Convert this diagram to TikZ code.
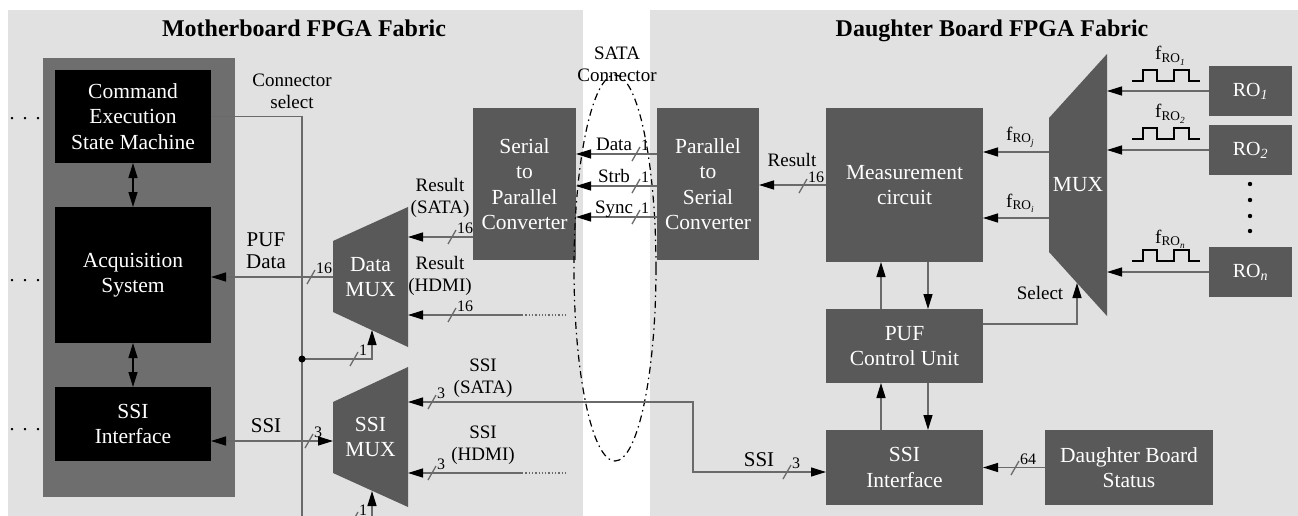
\documentclass[tikz,border=0pt]{standalone}
\usepackage{fontspec}
\setmainfont{Liberation Serif}
\usetikzlibrary{arrows.meta}
\definecolor{panelgray}{HTML}{E1E1E1}
\definecolor{coregray}{HTML}{6E6E6E}
\definecolor{blockgray}{HTML}{595959}
\definecolor{linegray}{HTML}{6A6A6A}
\tikzset{
  >={Triangle[length=15pt,width=9pt,color=black]},
  blk/.style={rectangle, fill=blockgray, text=white, inner sep=0pt, outer sep=0pt, align=center, font=\fontsize{21.5}{25.5}\selectfont},
  blackblk/.style={blk, fill=black},
  muxlbl/.style={rectangle, inner sep=0pt, outer sep=0pt, text=white, align=center, font=\fontsize{21.5}{25.5}\selectfont},
  muxfill/.style={fill=blockgray},
  lbl/.style={align=center, inner sep=0pt, font=\fontsize{19}{22}\selectfont},
  biglbl/.style={align=center, inner sep=0pt, font=\fontsize{21}{22}\selectfont},
  title/.style={anchor=base, inner sep=0pt, font=\bfseries\fontsize{24}{28}\selectfont},
  sig/.style={draw=linegray, line width=1.3pt},
  busnum/.style={anchor=base west, inner sep=0pt, font=\fontsize{16}{16}\selectfont},
  pics/bus/.style={code={
    \draw[sig] (-4,7) -- (4,-7);
    \node[busnum] at (5,-4) {#1};}},
  pics/wave/.style={code={
    \draw[line width=1.8pt] (-34,0) -- (-23,0) -- (-23,-11) -- (-9,-11) -- (-9,0) -- (8,0) -- (8,-11) -- (23,-11) -- (23,0) -- (34,0);}}
}
\begin{document}
\begin{tikzpicture}[x=1pt,y=-1pt]
\useasboundingbox (0,0) rectangle (1298,516);
\fill[white] (0,0) rectangle (1298,516);
\fill[panelgray] (8,10) rectangle (583,516);
\fill[panelgray] (650,10) rectangle (1298,516);
\node[title] (mbtitle) at (304,37) {Motherboard FPGA Fabric};
\node[title] (dbtitle) at (992,37) {Daughter Board FPGA Fabric};

% motherboard side
\node[fill=coregray, minimum width=192, minimum height=439, inner sep=0pt] (mbcore) at (139,277.5) {};
\node[blackblk, minimum width=156, minimum height=93] (cesm) at (133,116.5) {Command\\Execution\\State Machine};
\node[blackblk, minimum width=156, minimum height=136] (acq) at (133,275) {Acquisition\\System};
\node[blackblk, minimum width=156, minimum height=74] (ssimb) at (133,424) {SSI\\Interface};
\draw[<->, line width=1.3pt] (cesm.south) -- (acq.north);
\draw[<->, line width=1.3pt] (acq.south) -- (ssimb.north);
\node[anchor=base, font=\fontsize{20}{20}\selectfont] (dots1) at (25,120) {.\kern8pt.\kern8pt.};
\node[anchor=base, font=\fontsize{20}{20}\selectfont] (dots2) at (25,281) {.\kern8pt.\kern8pt.};
\node[anchor=base, font=\fontsize{20}{20}\selectfont] (dots3) at (25,430) {.\kern8pt.\kern8pt.};

\fill[muxfill] (333,241) -- (408,207) -- (408,347) -- (333,312) -- cycle;
\node[muxlbl, minimum width=75, minimum height=140] (dmux) at (370.5,277) {Data\\MUX};
\fill[muxfill] (333,402) -- (408,367) -- (408,507) -- (333,473) -- cycle;
\node[muxlbl, minimum width=75, minimum height=140] (smux) at (370.5,437) {SSI\\MUX};
\coordinate (dmuxsel) at (372,330);
\coordinate (smuxsel) at (372,491);
\coordinate (seljoin) at (302,359);

\node[lbl] (consel) at (292,91) {Connector\\select};
\draw[sig,->] (cesm.east) -| (302,519) -| (smuxsel);
\draw[sig,->] (seljoin) -| (dmuxsel);
\fill (seljoin) circle (3.5);
\pic at (354,359) {bus=1};
\pic at (354,519) {bus=1};

\draw[sig,->] (dmux.west) -- (dmux.west -| acq.east);
\node[biglbl] (pufdata) at (266,251) {PUF\\Data};
\pic at (311,277) {bus=16};

\draw[sig,<->] (ssimb.east |- 0,441) -- (smux.west |- 0,441);
\node[biglbl, anchor=base] (ssilbl) at (266,432) {SSI};
\pic at (309,441) {bus=3};

\node[blk, minimum width=103, minimum height=152] (s2p) at (524.5,184) {Serial\\to\\Parallel\\Converter};
\draw[sig,->] (s2p.west |- 0,237) -- (dmux.east |- 0,237);
\node[lbl] (ressata) at (440,198) {Result\\(SATA)};
\pic at (452,237) {bus=16};

\coordinate (hdmires) at (565,315);
\coordinate (hdmiresx) at (522,315);
\draw[sig,->] (hdmiresx) -- (dmux.east |- hdmiresx);
\draw[sig,dotted] (hdmiresx) -- (hdmires);
\node[lbl] (reshdmi) at (440,276) {Result\\(HDMI)};
\pic at (452,315) {bus=16};

\coordinate (hdmissi) at (565,473);
\coordinate (hdmissix) at (522,473);
\draw[sig,->] (hdmissix) -- (smux.east |- hdmissix);
\draw[sig,dotted] (hdmissix) -- (hdmissi);
\node[lbl] (ssihdmi) at (483,445) {SSI\\(HDMI)};
\pic at (432,473) {bus=3};

% connector
\draw[line width=1.2pt, dash pattern=on 7pt off 4pt on 1.5pt off 4pt] (615,268) ellipse [x radius=41, y radius=193];
\node[lbl] (sata) at (617,64) {SATA\\Connector};

% daughter board side
\node[blk, minimum width=102, minimum height=152] (p2s) at (708,184) {Parallel\\to\\Serial\\Converter};
\foreach \y/\t in {154/Data,186/Strb,217/Sync} {
  \draw[sig,->] (p2s.west |- 0,\y) -- (s2p.east |- 0,\y);
  \node[lbl, anchor=base] (lbl\t) at (614,\y-4) {\t};
  \pic at (636,\y) {bus=1};
}

\node[blk, minimum width=157, minimum height=154] (meas) at (904.5,185) {Measurement\\circuit};
\node[blk, minimum width=157, minimum height=74] (puf) at (904.5,346) {PUF\\Control Unit};
\node[blk, minimum width=157, minimum height=75] (dbssi) at (904.5,467.5) {SSI\\Interface};
\node[blk, minimum width=168, minimum height=75] (dbstat) at (1129,467.5) {Daughter Board\\Status};

\draw[sig,->] (meas.west) -- (p2s.east |- meas.west);
\node[lbl, anchor=base] (reslbl) at (792,166) {Result};
\pic at (803,186) {bus=16};

\draw[sig,<->] (smux.east |- 0,402) -- (693,402) |- (dbssi.west |- 0,472);
\node[lbl] (ssisata) at (483,378) {SSI\\(SATA)};
\pic at (432,402) {bus=3};
\node[biglbl, anchor=base] (ssidb) at (759,466) {SSI};
\pic at (787,472) {bus=3};

\draw[sig,->] (puf.north -| 881,0) -- (meas.south -| 881,0);
\draw[sig,->] (meas.south -| 928,0) -- (puf.north -| 928,0);
\draw[sig,->] (dbssi.north -| 881,0) -- (puf.south -| 881,0);
\draw[sig,->] (puf.south -| 928,0) -- (dbssi.north -| 928,0);

\draw[sig,->] (dbstat.west) -- (dbssi.east);
\pic at (1015,468) {bus=64};

\fill[muxfill] (1049,118) -- (1107,54) -- (1107,316) -- (1049,252) -- cycle;
\node[muxlbl, minimum width=58, minimum height=262] (rmux) at (1078,185) {MUX};
\coordinate (rmuxsel) at (1077,283);
\draw[sig,->] (puf.east |- 0,324) -| (rmuxsel);
\node[lbl, anchor=base] (sellbl) at (1040,299) {Select};

\draw[sig,->] (rmux.west |- 0,152) -- (meas.east |- 0,152);
\draw[sig,->] (rmux.west |- 0,218) -- (meas.east |- 0,218);
\node[lbl, anchor=base west] (froj) at (1006,140) {f\textsubscript{RO\textsubscript{\itshape j}}};
\node[lbl, anchor=base west] (froi) at (1006,207) {f\textsubscript{RO\textsubscript{\itshape i}}};

\node[blk, minimum width=83, minimum height=50, font=\fontsize{20}{24}\selectfont] (ro1) at (1250.5,91) {RO\textsubscript{\itshape 1}};
\node[blk, minimum width=83, minimum height=50, font=\fontsize{20}{24}\selectfont] (ro2) at (1250.5,150) {RO\textsubscript{\itshape 2}};
\node[blk, minimum width=83, minimum height=50, font=\fontsize{20}{24}\selectfont] (ron) at (1250.5,272) {RO\textsubscript{\itshape n}};
\draw[sig,->] (ro1.west) -- (rmux.east |- ro1.west);
\draw[sig,->] (ro2.west) -- (rmux.east |- ro2.west);
\draw[sig,->] (ron.west) -- (rmux.east |- ron.west);
\pic at (1166,81) {wave};
\pic at (1166,139) {wave};
\pic at (1166,261) {wave};
\node[lbl, anchor=base west] (fro1) at (1155,60) {f\textsubscript{RO\textsubscript{\itshape 1}}};
\node[lbl, anchor=base west] (fro2) at (1155,118) {f\textsubscript{RO\textsubscript{\itshape 2}}};
\node[lbl, anchor=base west] (fron) at (1155,243) {f\textsubscript{RO\textsubscript{\itshape n}}};
\foreach \yy in {184,200,216,231} \fill (1250,\yy) circle (2.2);
\end{tikzpicture}
\end{document}
